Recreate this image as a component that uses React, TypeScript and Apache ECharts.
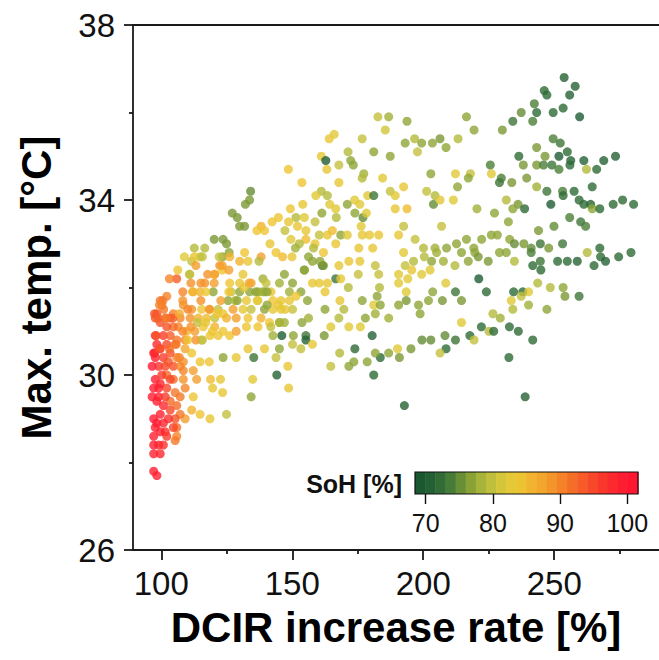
import React, { useEffect, useRef } from "react";
import * as echarts from "echarts";

// [DCIR increase rate %, Max. temp °C, SoH %]
const upperLeft: [number, number, number][] = [
  [182.7,35.9,80],[186.8,35.9,78],[185.5,35.6,81],[166,35.5,82],[164.1,35.4,83],[176.7,35.4,80],[171.3,35.1,79],[181.1,35.1,77],
  [161.1,35.0,83],[162.8,34.9,70],[172.3,34.9,77],[173.3,34.8,77],[167.8,34.8,80],[163.2,34.7,83],[148.5,34.7,84],[177.3,34.6,78],
  [176.7,34.5,79],[184.5,34.5,82],[187.4,35.0,77],[153.7,34.4,84],[167.8,34.4,83],[187.4,34.2,80],[134.1,34.2,75],[161.1,34.2,79],
  [159,34.1,82],[163.4,34.1,79],[133.7,34.0,76],[132.1,33.9,76],[178.8,34.1,82],[181.1,34.1,73],[173.8,34.0,82],[175.8,33.9,82],
  [154,33.9,83],[164.3,33.9,82],[171,33.9,77],[166.6,33.8,82],[149.3,33.8,84],[127.1,33.7,76],[129,33.6,76],[161.3,33.7,77],
  [173.9,33.7,77],[177,33.6,75],[178.3,33.7,82],[166.8,33.6,79],[144.7,33.6,84],[151.4,33.6,79],[154.6,33.6,82],[142.3,33.5,84],
  [148.6,33.5,83],[138.1,33.4,86],[129.9,33.4,76],[131.8,33.4,76],[158.7,33.5,80],[152,33.4,83],[176.3,33.4,82],[136.5,33.3,84],
  [139.4,33.3,84],[147.2,33.3,80],[155.2,33.3,83],[160.3,33.2,80],[163.4,33.2,83],[165.3,33.3,85],[168.5,33.2,77],[171,33.2,82],
  [176.7,33.2,83],[179.5,33.2,83],[183,33.2,83],[120.2,33.1,76],[123.6,33.1,76],[149.5,33.1,82],[155.2,33.1,85],[124.9,33.0,76],
  [141.5,33.0,83],[152.7,33.0,79],[158.7,33.0,83],[166.6,33.0,83],[112.6,32.9,79],[116.6,32.9,79],[151.2,32.9,78],[158.1,32.9,79],
  [175.4,32.9,83],[180.7,32.9,83],[108.8,32.7,82],[114.8,32.7,80],[123.4,32.7,77],[125.9,32.8,77],[131.8,32.8,84],[143.8,32.8,84],
  [161.9,32.8,84],[111.6,32.6,80],[122.3,32.5,89],[126.1,32.7,86],[129.9,32.6,86],[138.1,32.7,88],[133.1,32.6,83],[137.3,32.6,79],
  [146.3,32.7,85],[149.9,32.7,83],[156.2,32.7,77],[157.7,32.6,77],[167.8,32.5,83],[171.6,32.6,83],[175.8,32.6,83],[181.7,32.5,80],
  [161.5,32.5,73],[154.6,32.4,76]
];

const upperRight: [number, number, number][] = [
  [253.8,36.8,71],[258,36.6,71],[246.2,36.5,72],[247.2,36.4,72],[255.9,36.4,71],[242.4,36.2,74],[253.4,36.1,72],[249.6,36.0,72],
  [243.3,36.0,72],[237.4,36.0,75],[259.7,35.9,70],[241.8,35.8,74],[234.2,35.8,73],[216.5,35.9,77],[193.8,35.8,77],[219.4,35.6,77],
  [230.2,35.6,76],[196.7,35.4,79],[193.1,35.3,77],[199.4,35.3,77],[203.5,35.3,77],[206.4,35.4,76],[208.7,35.2,77],[213.3,35.4,79],
  [197.8,35.1,80],[249.6,35.4,74],[252.3,35.3,73],[243.3,35.2,76],[255,35.1,72],[251.8,35.0,70],[256.3,34.9,71],[261.3,34.9,71],
  [268.9,34.9,71],[273.4,35.0,71],[246.5,35.0,76],[236.5,35.0,72],[225.6,34.8,74],[238.2,34.8,76],[243.3,34.8,76],[245.9,34.8,74],
  [249.1,34.8,73],[251.8,34.7,74],[256,34.8,72],[262.3,34.7,79],[266.2,34.7,72],[202.9,34.6,77],[212.3,34.6,82],[218,34.6,80],
  [217.2,34.5,77],[226,34.6,82],[229.8,34.5,74],[229.1,34.4,73],[233.8,34.4,76],[239.5,34.5,76],[243.3,34.3,78],[247.2,34.2,73],
  [253.2,34.2,74],[253.4,34.1,72],[257.6,34.2,72],[259.5,34.0,72],[261.3,33.9,72],[264.5,34.3,72],[263.9,33.9,71],[264.5,33.8,77],
  [267.4,33.8,72],[272.5,33.9,72],[276.1,34.0,72],[280.3,33.9,72],[248.7,33.9,70],[213.1,34.3,77],[201.3,34.2,80],[204.5,34.1,79],
  [203.9,33.9,75],[206.4,34.0,82],[211.5,34.0,82],[192.5,34.3,83],[189.3,34.1,82],[189.3,33.8,83],[193.8,33.8,85],[220.5,33.8,78],
  [231.7,34.0,79],[236.2,33.9,76],[238.7,33.8,72],[234.2,33.8,77],[227.2,33.7,77],[255.9,33.6,74],[260.1,33.5,73],[262,33.4,74],
  [249.9,33.4,75],[244,33.3,76],[232.5,33.5,77],[192.5,33.4,80],[207,33.4,80],[190.6,33.2,83],[196.9,33.1,80],[226,33.2,77],
  [228.3,33.2,77],[233,33.1,77],[234.8,33.0,75],[238.4,33.0,76],[241.2,32.9,75],[244.7,33.0,73],[247.9,32.9,76],[253.2,33.0,73],
  [216.5,33.1,77],[212.7,33.0,77],[208.9,32.9,77],[222.3,33.1,77],[219.3,32.9,77],[204.5,32.9,78],[200.1,32.9,79],[192.5,32.8,82],
  [200.4,32.7,79],[205.1,32.8,78],[203.2,32.6,77],[196.3,32.6,79],[193.1,32.5,80],[207.7,32.6,78],[212.1,32.5,79],[214.6,32.8,77],
  [217.2,32.6,77],[219.7,32.8,77],[221,32.7,76],[224.8,32.6,76],[229.1,32.8,77],[231.7,32.8,77],[234.8,32.6,79],[241.2,32.8,74],
  [241.8,32.5,72],[244.7,32.6,73],[251.3,32.6,72],[255,32.6,72],[258.8,32.6,71],[262.6,32.8,79],[267.4,32.9,72],[267.7,32.7,72],
  [269.6,32.6,71],[274.6,32.7,72],[279.3,32.8,72],[265.2,32.5,72]
];

const lowerLeft: [number, number, number][] = [
  [110.9,32.3,79],[105.9,32.2,93],[116.6,32.1,89],[120.4,32.3,89],[123.3,32.4,84],[131.2,32.3,83],[138.8,32.2,78],[129.9,32.1,83],
  [134.3,32.1,88],[140,32.1,80],[145.1,32.1,78],[147,32.3,77],[150.1,32.1,77],[154.6,32.4,77],[157.7,32.1,83],[160.3,32.1,83],
  [163.4,32.1,83],[166.6,32.2,73],[168.5,32.2,83],[175.2,32.3,80],[183,32.3,80],[183.3,32.0,79],[171.4,32.0,79],[162.5,31.9,83],
  [119.8,31.9,77],[114.8,31.9,86],[112.2,31.9,85],[102.1,31.8,90],[126.1,32.1,84],[126.7,31.9,80],[129.9,31.9,77],[133.7,31.9,77],
  [136.9,31.9,77],[139.4,31.9,77],[141.9,31.9,83],[148.9,31.9,78],[153.3,31.9,77],[125.5,31.7,77],[128.1,31.7,79],[132.5,31.7,83],
  [136.9,31.7,82],[142.6,31.7,84],[145.7,31.7,83],[148.9,31.7,83],[151.4,31.8,84],[155.8,31.7,77],[168.2,31.7,83],[176.7,31.7,77],
  [182.4,31.8,77],[181.1,31.6,82],[183.6,31.6,77],[99.6,31.7,91],[98.3,31.4,94],[100.9,31.5,91],[104.6,31.4,90],[108.4,31.6,89],
  [111.6,31.5,89],[115.4,31.5,84],[118.6,31.5,84],[121.7,31.5,80],[123.6,31.4,84],[127.4,31.5,88],[131.2,31.5,83],[134.3,31.5,80],
  [139.4,31.5,77],[142.6,31.5,83],[145.7,31.5,83],[150.1,31.5,80],[162.5,31.5,77],[169.7,31.5,79],[181.7,31.4,78],[186.8,31.3,78],
  [167.8,31.3,79],[177.9,31.3,77],[103.4,31.3,93],[107.2,31.3,90],[111,31.3,89],[114.1,31.3,86],[117.3,31.3,85],[120.4,31.3,80],
  [124.9,31.3,86],[128.6,31.3,88],[133.1,31.3,84],[138.1,31.3,86],[141.3,31.2,84],[145.1,31.2,80],[147,31.2,78],[164.7,31.1,82],
  [171.6,31.1,82],[176,31.1,82],[180.5,30.9,71],[186.8,30.5,77],[183.6,30.4,72],[181.7,30.5,77],[178.6,30.3,77],[181.1,30.0,72],
  [173.9,30.6,72],[173.5,30.3,77],[171.6,30.2,77],[168.1,30.5,79],[164.7,30.2,80],[162.2,30.9,76],[155.2,30.9,73],[155.2,30.8,71],
  [157.7,30.7,83],[153.3,30.6,80],[150.1,30.7,80],[150.4,30.9,77],[146,30.9,70],[142.6,30.9,78],[145.1,30.6,77],[143.8,30.4,80],
  [148.3,30.2,83],[144.1,30.0,71],[148.6,29.7,83],[139.4,30.6,83],[133.1,30.6,83],[135.3,30.4,73],[128.6,30.4,83],[123.6,30.4,77],
  [134.9,29.9,82],[134.3,29.5,77],[124.9,29.1,80],[123.4,29.6,83],[122.6,29.9,83],[119.6,29.7,83],[118.8,29.9,85],[118.6,29.0,83],
  [114.8,29.1,84],[111.6,29.2,86],[109.1,29.0,88],[112.2,29.5,84],[113.5,29.9,88],[112.2,30.1,88],[118.3,30.3,84],[114.8,30.3,84],
  [111.6,30.5,84],[121.7,30.9,84],[118.6,30.9,84],[115.4,30.8,80],[112.8,31.0,88],[109.7,31.0,86],[106.5,31.1,90],[116,31.1,84],
  [120.4,31.1,86],[123.6,31.0,84],[126.1,30.9,84],[128.6,31.0,88],[132.5,31.1,84],[136.9,31.1,84],[141.8,31.1,80],[145.1,31.2,78],
  [105.9,30.8,91],[109.1,30.8,90],[109.1,30.6,87],[105.9,30.4,90],[108.4,30.3,89],[108.4,30.1,90],[109.1,29.7,90],[107.2,29.5,91],
  [104.6,29.9,92],[104.6,30.2,94],[102.1,30.0,92],[102.1,29.7,95],[103.4,29.4,92],[105.9,29.3,92],[107.2,29.1,91],[105.9,28.8,92],
  [105.9,28.6,90],[105.3,28.5,91],[105.3,29.0,94],[104.6,28.8,95],[102.7,29.0,97],[100.8,28.9,98],[101.5,28.7,97],[102.1,28.6,96],
  [100.8,28.4,97],[99,28.4,98],[97.1,28.4,99],[99.6,28.2,98],[97.1,28.2,99],[97.1,27.8,99],[98.3,27.7,99],[97.1,28.6,99],
  [97.7,28.8,99],[98.3,28.9,100],[99.6,28.7,99],[97.1,29.0,100],[99.6,29.1,99],[100.8,29.3,98],[98.3,29.4,99],[96.5,29.5,100],
  [99,29.5,99],[101.5,29.5,96],[97.1,29.7,100],[99.6,29.8,98],[97.7,29.9,99],[100.2,30.0,96],[96.5,30.2,100],[99,30.2,97],
  [101.5,30.2,95],[97.7,30.4,99],[100.8,30.4,96],[97.1,30.5,99],[99.6,30.6,98],[103.4,30.5,94],[102.1,30.7,95],[98.3,30.7,98],
  [97.7,30.9,98],[100.8,30.9,96],[103.4,30.9,93],[104.6,31.1,92],[102.1,31.1,94],[99.6,31.2,94],[97.7,31.3,94],[101.5,31.3,92],
  [100.2,31.6,91],[105.3,30.7,91],[102.7,30.3,94],[107.2,30.2,90],[103.4,29.9,95],[108.4,29.9,89],[105.3,29.6,91],[103.4,29.2,95],
  [99,29.7,99]
];

const leftBand: [number, number, number][] = [
  [100.6,31.7,91],[99.3,31.6,90],[97.4,31.4,94],[98.7,31.3,93],[108.2,31.7,89],[110.1,31.5,90],[104.4,31.3,93],[101.9,31.3,91],
  [106.9,31.4,87],[115.1,32.1,89],[111.3,32.1,89],[117.7,32.3,89],[120.2,32.3,87],[117,31.9,84],[115.1,31.7,89],[111.9,31.9,86],
  [108.2,31.9,90],[103.1,32.2,90],[106.3,32.4,84],[110.7,32.3,80],[113.2,32.5,88],[123.3,32.5,88],[125.8,32.4,88],[120.2,32.1,88],
  [125.8,31.9,84],[122.7,31.7,88],[118.3,31.5,89],[121.4,31.4,84],[113.8,31.2,80],[117,31.2,83],[119.5,31.0,84],[108.2,31.0,90],
  [111.3,31.1,89],[113.2,30.8,89],[110.1,30.8,84],[115.7,30.8,80],[98.1,30.9,94],[97.4,30.5,98],[99.3,30.6,94],[103.1,30.6,92],
  [105.7,30.7,91],[106.9,30.4,90],[112.6,32.7,83],[115.7,32.7,80],[122.1,32.7,80],[129,31.7,77],[131.6,32.0,83],[133.5,32.1,87],
  [136,31.9,77],[138.5,31.9,78],[140.4,31.9,77],[136.6,31.7,83],[144.8,31.6,83],[147.3,31.5,83],[140.4,31.6,77],[153.7,31.2,77],
  [156.2,31.3,78],[160.6,32.6,77],[161.9,32.5,76]
];

const lowerRight: [number, number, number][] = [
  [221.2,32.2,70],[244.9,32.4,72],[190.6,32.3,82],[195.6,32.4,83],[199.4,32.3,82],[202.6,32.4,82],[190.6,32.1,82],[194.1,32.2,82],
  [208.6,32.1,82],[193.5,31.9,82],[203.6,31.9,77],[212.3,31.9,73],[224.1,31.9,72],[234.5,31.9,72],[238,31.9,72],[240.2,31.9,82],
  [243.7,32.1,79],[248.5,32.0,79],[253.4,32.0,77],[254.1,31.8,76],[259.5,31.8,73],[237.4,31.8,80],[233.6,31.7,82],[234.2,31.5,79],
  [240.2,31.6,78],[247.2,31.5,77],[190.6,31.6,77],[193.5,31.7,76],[198.2,31.6,77],[202,31.7,77],[207.3,31.7,76],[214.6,31.7,76],
  [198.8,31.4,77],[226.6,31.4,79],[229.4,31.3,78],[214.6,31.2,82],[222.2,31.1,72],[225.1,31.0,79],[226.9,31.0,72],[232.9,31.1,72],
  [236.3,31.0,72],[241.8,30.8,72],[217.8,30.9,72],[219.4,30.8,80],[212.3,30.8,73],[208.3,30.9,75],[208.7,30.6,72],[206.4,30.5,80],
  [202.9,30.8,75],[199.5,30.8,75],[195.3,30.6,76],[190.2,30.6,82],[190.9,30.4,76],[232.7,30.4,72],[238.9,29.5,71],[192.8,29.3,71]
];

const majorXTicks = [100, 150, 200, 250];
const minorXTicks = [125, 175, 225, 275];
const majorYTicks = [26, 30, 34, 38];
const minorYTicks = [28, 32, 36];
const sohTicks = [70, 80, 90, 100];

// SoH colour scale (68 .. 102 in steps of 2)
const sohColors = [
  "#18502e", "#1e5c34", "#2e6a36", "#4c7f38", "#7b9934", "#a3b23a", "#c4c13e", "#e0c936", "#eec532",
  "#f2b230", "#f49f2c", "#f58529", "#f56b28", "#f65228", "#f93b2a", "#fc272e", "#ff1a32", "#ff1432"
];

const CB_MIN = 68.4;
const CB_MAX = 101.6;
const CB_STEPS = 22;

const FONT = '"Liberation Sans", Arial, Helvetica, sans-serif';
const AXIS_COLOR = "#1a1a1a";

export default function App() {
  const ref = useRef<HTMLDivElement>(null);
  useEffect(() => {
    if (!ref.current) return;
    const chart = echarts.init(ref.current, undefined, { renderer: "svg" });
    const points = [...upperLeft, ...upperRight, ...lowerLeft, ...leftBand, ...lowerRight];
    const stepW = (CB_MAX - CB_MIN) / CB_STEPS;
    const bar: number[][] = [];
    for (let i = 0; i < CB_STEPS; i++) {
      const s = CB_MIN + i * stepW;
      bar.push([s, s + stepW, s + stepW / 2]);
    }
    const X_MIN = 89.2, X_MAX = 290;
    chart.setOption({
      animation: false,
      backgroundColor: "#fff",
      grid: [
        { left: 133, top: 25, width: 530, height: 525 },
        { left: 415, top: 472, width: 223, height: 22, show: true, borderColor: "#111", borderWidth: 1.2, backgroundColor: "transparent", z: 10 }
      ],
      visualMap: {
        show: false,
        type: "continuous",
        min: 68,
        max: 102,
        dimension: 2,
        seriesIndex: [0, 1],
        inRange: { color: sohColors }
      },
      xAxis: [
        {
          gridIndex: 0, type: "value", min: X_MIN, max: X_MAX, position: "bottom",
          axisLine: { show: true, lineStyle: { color: AXIS_COLOR, width: 1.8 } },
          axisTick: { show: true, customValues: majorXTicks, length: 10, lineStyle: { color: AXIS_COLOR, width: 1.8 } },
          axisLabel: { customValues: majorXTicks, fontSize: 33, margin: 17, color: "#111", fontFamily: FONT },
          splitLine: { show: false },
          name: "DCIR increase rate [%]", nameLocation: "middle", nameGap: 56,
          nameTextStyle: { fontSize: 42, fontWeight: "bold", color: "#000", fontFamily: FONT }
        },
        {
          gridIndex: 0, type: "value", min: X_MIN, max: X_MAX, position: "bottom",
          axisLine: { show: false },
          axisTick: { show: true, customValues: minorXTicks, length: 4, lineStyle: { color: AXIS_COLOR, width: 1.8 } },
          axisLabel: { show: false }, splitLine: { show: false }
        },
        {
          gridIndex: 0, type: "value", min: X_MIN, max: X_MAX, position: "top",
          axisLine: { show: true, lineStyle: { color: AXIS_COLOR, width: 1.8 } },
          axisTick: { show: false }, axisLabel: { show: false }, splitLine: { show: false }
        },
        {
          gridIndex: 1, type: "value", min: CB_MIN, max: CB_MAX, position: "bottom",
          axisLine: { show: false },
          axisTick: { show: true, customValues: sohTicks, length: 10, lineStyle: { color: "#111", width: 1.4 } },
          axisLabel: { customValues: sohTicks, fontSize: 25, margin: 16, color: "#111", fontFamily: FONT },
          splitLine: { show: false }
        }
      ],
      yAxis: [
        {
          gridIndex: 0, type: "value", min: 26, max: 38, position: "left",
          axisLine: { show: true, lineStyle: { color: AXIS_COLOR, width: 1.8 } },
          axisTick: { show: true, customValues: majorYTicks, length: 9, lineStyle: { color: AXIS_COLOR, width: 1.8 } },
          axisLabel: { customValues: majorYTicks, fontSize: 33, margin: 18, color: "#111", fontFamily: FONT },
          splitLine: { show: false },
          name: "Max. temp. [°C]", nameLocation: "middle", nameGap: 76, nameRotate: 90,
          nameTextStyle: { fontSize: 42, fontWeight: "bold", color: "#000", fontFamily: FONT }
        },
        {
          gridIndex: 0, type: "value", min: 26, max: 38, position: "left",
          axisLine: { show: false },
          axisTick: { show: true, customValues: minorYTicks, length: 4, lineStyle: { color: AXIS_COLOR, width: 1.8 } },
          axisLabel: { show: false }, splitLine: { show: false }
        },
        { gridIndex: 1, type: "value", min: 0, max: 1, show: false }
      ],
      graphic: [
        {
          type: "text", x: 402, y: 484, z: 20,
          style: { text: "SoH [%]", fill: "#111", font: `bold 25px ${FONT}`, align: "right", verticalAlign: "middle" }
        }
      ],
      series: [
        {
          type: "scatter", xAxisIndex: 0, yAxisIndex: 0, data: points, symbolSize: 9,
          itemStyle: { opacity: 0.8 }
        },
        {
          type: "custom", xAxisIndex: 3, yAxisIndex: 2, data: bar,
          encode: { x: [0, 1] },
          renderItem: (_p: any, api: any) => {
            const a = api.coord([api.value(0), 0]);
            const b = api.coord([api.value(1), 1]);
            return {
              type: "rect",
              shape: { x: a[0], y: b[1], width: b[0] - a[0] + 0.5, height: a[1] - b[1] },
              style: { fill: api.visual("color") }
            };
          }
        }
      ]
    });
    return () => chart.dispose();
  }, []);
  return <div ref={ref} style={{ position: "fixed", left: 0, top: 0, width: 659, height: 660 }} />;
}
